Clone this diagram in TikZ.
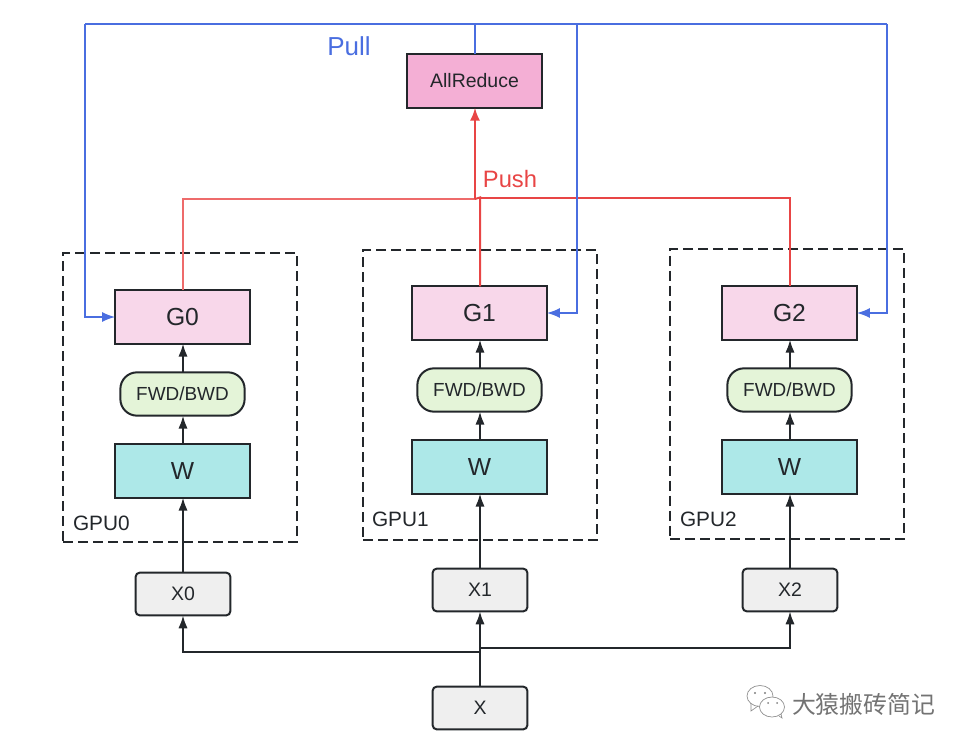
\documentclass[tikz,border=0pt]{standalone}
\usepackage{fontspec}
\setmainfont{Liberation Sans}
\newfontfamily\cjkfont{Noto Sans CJK SC}
\usetikzlibrary{arrows.meta,calc}
\definecolor{inkc}{HTML}{23272B}
\definecolor{pullc}{HTML}{4A6EE0}
\definecolor{pushc}{HTML}{E84545}
\definecolor{pushpale}{HTML}{EE6B6B}
\definecolor{gfill}{HTML}{F8D7EA}
\definecolor{afill}{HTML}{F4AFD5}
\definecolor{wfill}{HTML}{ADE8E8}
\definecolor{ffill}{HTML}{E4F4D8}
\definecolor{xfill}{HTML}{EFEFEF}
\tikzset{
  x=0.75pt,y=-0.75pt,
  every node/.style={text=inkc,inner sep=0pt,outer sep=0pt},
  sqbox/.style={draw=inkc,line width=1.5pt,minimum width=100.9pt,minimum height=40pt},
  gbox/.style={sqbox,fill=gfill,font=\fontsize{18.5}{20}\selectfont},
  wbox/.style={sqbox,fill=wfill,font=\fontsize{18.5}{20}\selectfont},
  abox/.style={sqbox,fill=afill,font=\fontsize{14.6}{16}\selectfont},
  fbox/.style={draw=inkc,line width=1.5pt,fill=ffill,rounded corners=12.5pt,minimum width=93.2pt,minimum height=32.5pt,font=\fontsize{14.2}{16}\selectfont},
  xbox/.style={draw=inkc,line width=1.5pt,fill=xfill,rounded corners=3pt,minimum width=71pt,minimum height=32pt,font=\fontsize{14.6}{16}\selectfont},
  gpubox/.style={draw=inkc,line width=1.5pt,dash pattern=on 7.5pt off 3.75pt},
  gpulabel/.style={anchor=west,font=\fontsize{15.6}{17}\selectfont},
  flow/.style={draw=inkc,line width=1.5pt,-{Latex[length=9.75pt,width=7pt]}},
  pull/.style={draw=pullc,line width=1.5pt,-{Latex[length=9.75pt,width=7.5pt]}},
  pullplain/.style={draw=pullc,line width=1.5pt},
  push/.style={draw=pushc,line width=1.5pt},
}
\begin{document}
\begin{tikzpicture}
\useasboundingbox (0,0) rectangle (967,746);

% GPU groups
\node[gpubox,minimum width=175.5pt,minimum height=216.75pt] (gpu0) at (180,397.5) {};
\node[gpubox,minimum width=175.5pt,minimum height=217.5pt] (gpu1) at (480,395) {};
\node[gpubox,minimum width=175.5pt,minimum height=217.5pt] (gpu2) at (787,393.5) {};
\node[gpulabel] (lab0) at (73,523) {GPU0};
\node[gpulabel] (lab1) at (372,519) {GPU1};
\node[gpulabel] (lab2) at (680,519) {GPU2};

% Column 0
\node[gbox] (g0) at (182.5,317) {G0};
\node[fbox] (f0) at (182.5,394) {FWD/BWD};
\node[wbox] (w0) at (182.5,471) {W};
\node[xbox] (x0) at (183,594) {X0};

% Column 1
\node[gbox] (g1) at (479.5,313) {G1};
\node[fbox] (f1) at (479.5,390) {FWD/BWD};
\node[wbox] (w1) at (479.5,467) {W};
\node[xbox] (x1) at (480,590) {X1};

% Column 2
\node[gbox] (g2) at (789.5,313) {G2};
\node[fbox] (f2) at (789.5,390) {FWD/BWD};
\node[wbox] (w2) at (789.5,467) {W};
\node[xbox] (x2) at (790,590) {X2};

% Input and reducer
\node[xbox] (xin) at (480,708) {X};
\node[abox] (ar) at (474.5,81) {AllReduce};

% Labels
\node[text=pullc,font=\fontsize{19.5}{21}\selectfont] (pulltxt) at (349,46) {Pull};
\node[text=pushc,font=\fontsize{17.8}{20}\selectfont] (pushtxt) at (510,179) {Push};

% Local flow in each column, kept plumb on the input box's axis
\foreach \c in {0,1,2}{
  \draw[flow] (x\c.north) -- (x\c.north |- w\c.south);
  \draw[flow] (x\c.north |- w\c.north) -- (x\c.north |- f\c.south);
  \draw[flow] (x\c.north |- f\c.north) -- (x\c.north |- g\c.south);
}

% Input fan-out
\coordinate (busl) at (480,652);
\coordinate (busr) at (480,648);
\draw[flow] (xin) -- (x1);
\draw[flow] (busl) -| (x0.south);
\draw[flow] (busr) -| (x2.south);

% Push lines into the reducer
\coordinate (pj0) at (475,199);
\coordinate (pj1) at (480,197.5);
\draw[draw=pushpale,line width=1.5pt] (x0.north |- g0.north) |- (pj0);
\draw[push] (x2.north |- g2.north) |- (pj1);
\draw[push] (x1.north |- g1.north) -- (pj1) -- (pj0);
\draw[push,-{Latex[length=9.75pt,width=7.5pt]}] (pj0) -- (pj0 |- ar.south);

% Pull lines out of the reducer
\coordinate (ptop) at (475,24);
\coordinate (pleft) at (85,24);
\coordinate (pright) at (887,24);
\coordinate (pmid) at (577,24);
\draw[pullplain] (ptop |- ar.north) -- (ptop);
\draw[pullplain] (pleft) -- (pright);
\draw[pull] (pleft) |- (g0.west);
\draw[pull] (pmid) |- (g1.east);
\draw[pull] (pright) |- (g2.east);

% WeChat account mark
\begin{scope}[draw=black!45,line width=0.5pt,fill=white]
  \draw[fill=white] (760,696) ellipse [x radius=13,y radius=10.5];
  \draw (751,703) -- (751,711) -- (758,706);
  \draw[fill=white] (772,707) ellipse [x radius=12.5,y radius=10];
  \draw (779,716) -- (782,718) -- (781,714);
  \fill[black!50] (755,693) circle (1.2) (765,693) circle (1.2) (768,703) circle (1) (777,703) circle (1);
\end{scope}
\node[anchor=west,text=black!55,font=\cjkfont\fontsize{17.9}{20}\selectfont] (mark) at (792,704) {大猿搬砖简记};
\end{tikzpicture}
\end{document}
